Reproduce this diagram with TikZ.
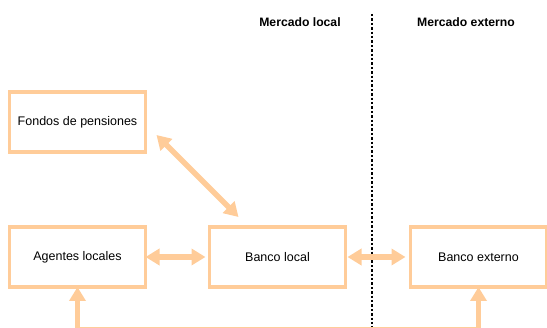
\documentclass[tikz,border=0pt]{standalone}
\usepackage{fontspec}
\setmainfont{Liberation Sans}
\usetikzlibrary{positioning, arrows.meta}

\definecolor{peach}{RGB}{255,204,153}

\begin{document}
\begin{tikzpicture}[x=1pt, y=-1pt,
    font=\fontsize{12.5}{14}\selectfont,
    box/.style={rectangle, draw=peach, line width=3.5pt, minimum width=136pt, minimum height=60pt, outer sep=0pt},
    both/.style={draw=peach, line width=5.5pt, {Triangle[length=14pt,width=16pt]}-{Triangle[length=14pt,width=16pt]}}]
                        \useasboundingbox (0,0) rectangle (547,328);

                        \node[box] (F) at (77.5,122) {Fondos de pensiones};
                        \node[box, below=75pt of F] (A) {Agentes locales};
                        \node[box, right=64pt of A] (L) {Banco local};
                        \node[box, right=65pt of L] (E) {Banco externo};

                        \node[font=\fontsize{12.2}{14}\bfseries\selectfont] (ML) at (300,22) {Mercado local};
                        \node[font=\fontsize{12.2}{14}\bfseries\selectfont] (ME) at (466,22) {Mercado externo};

                        % frontera entre mercados
                        \draw[line width=2.6pt, dash pattern=on 2.4pt off 2pt] (372,14) -- (372,332);

                        \coordinate (B) at (280,329.5);

                        \draw[both] ([xshift=11pt,yshift=17pt]F.south east) -- ([xshift=29pt,yshift=10pt]L.north west);
                        \draw[both, shorten >=4pt] (A) -- (L);
                        \draw[both, shorten <=2pt, shorten >=5pt] (L) -- (E);
                        \draw[both] (A.south) |- (B) -| (E.south);
                    \end{tikzpicture}
\end{document}
